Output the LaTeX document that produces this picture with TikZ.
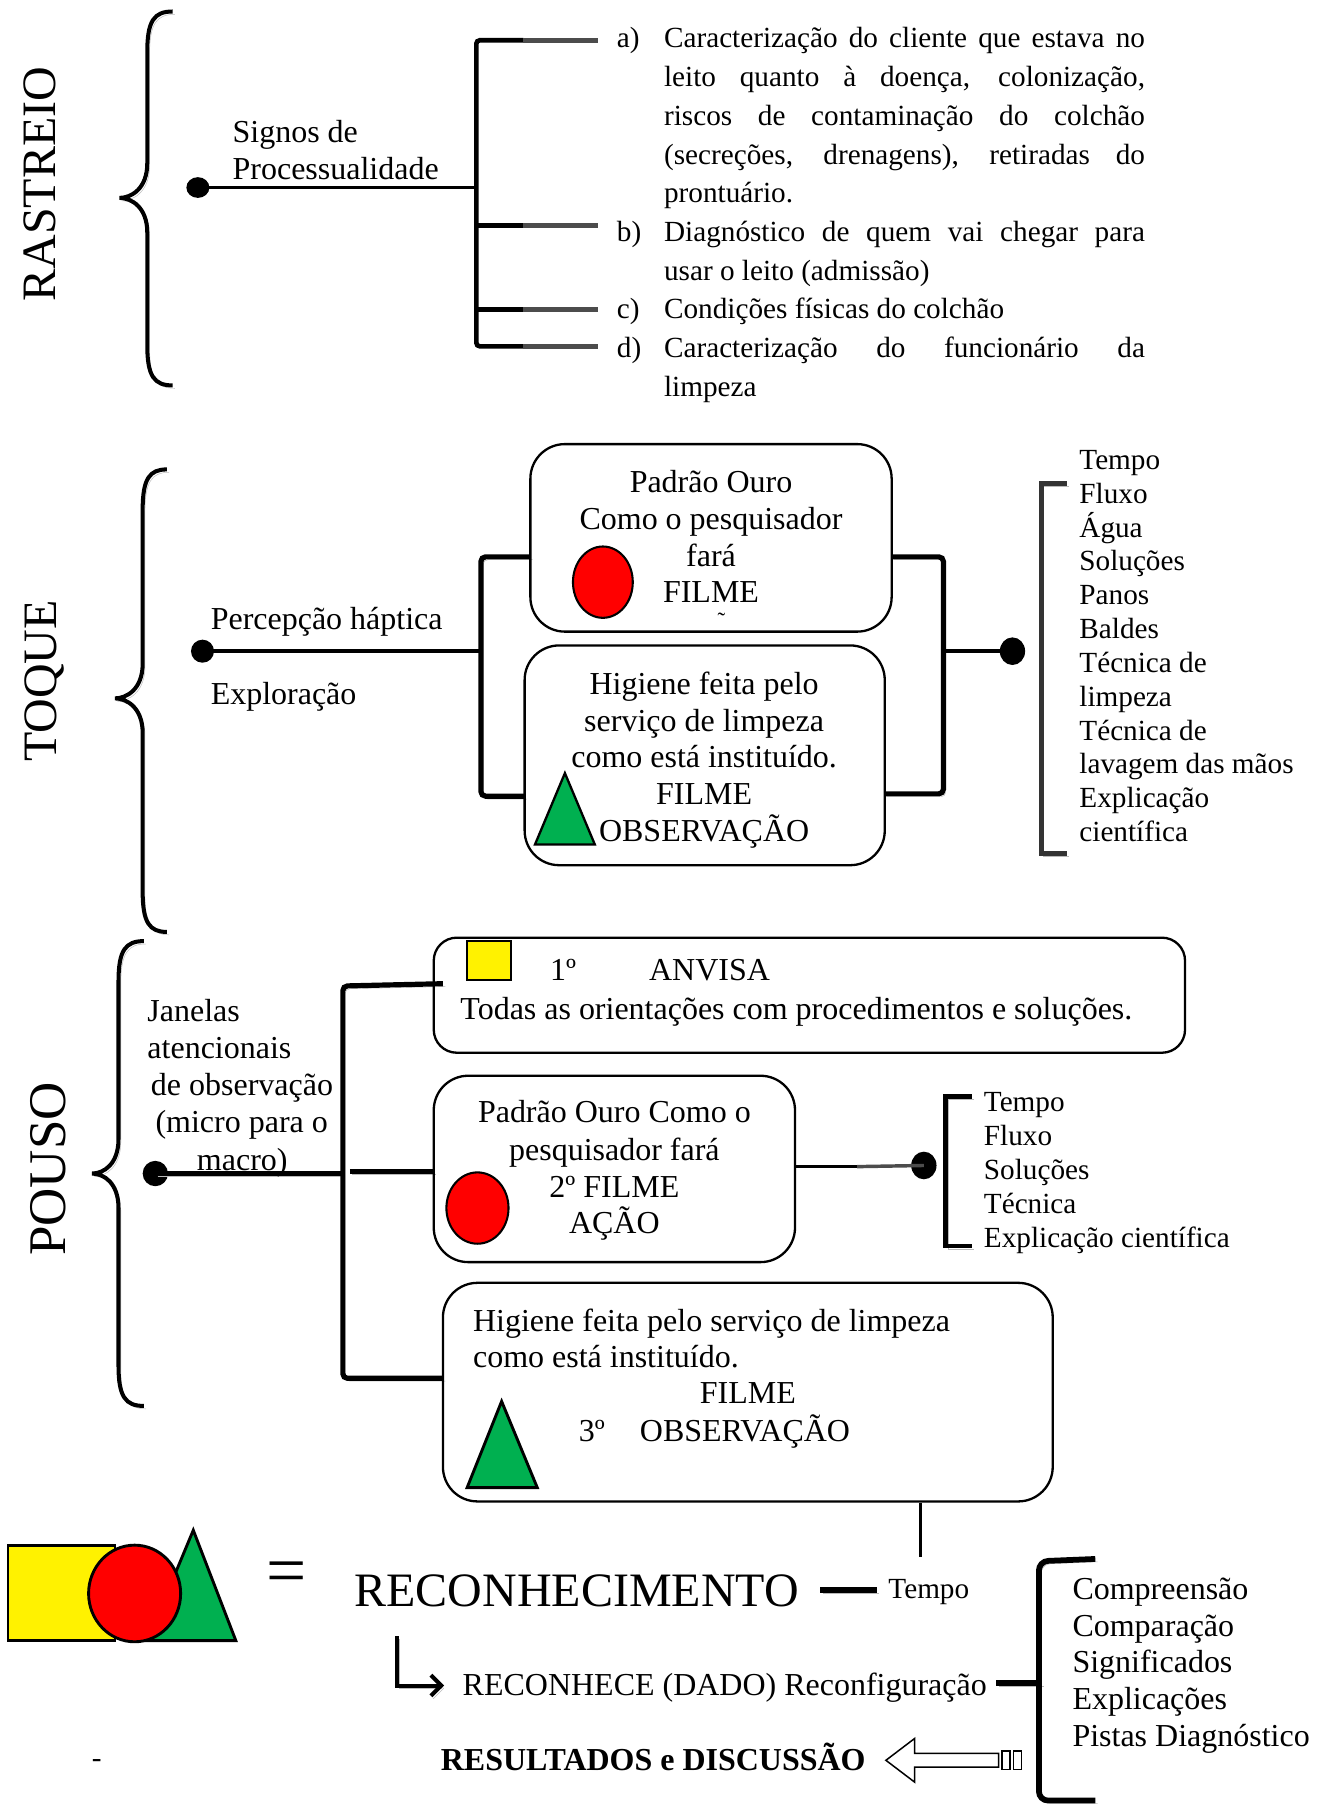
\documentclass[tikz,border=0pt]{standalone}
\usepackage{fontspec}
\setmainfont{Liberation Serif}
\usetikzlibrary{arrows.meta,shapes.geometric}
\newcommand{\fm}{\fontsize{27.8}{33}\selectfont}
\newcommand{\fl}{\fontsize{25.4}{30}\selectfont}
\newcommand{\fbig}{\fontsize{41.7}{50}\selectfont}
\newcommand{\jl}[1]{\makebox[418pt][s]{#1}}
\definecolor{offgreen}{HTML}{00B050}
\newcommand{\curlyb}[6]{%
 \draw[brc] ({#1},{#4}) .. controls ({#2+6},{#4}) and ({#2},{#4+8}) .. ({#2},{#4+35}) -- ({#2},{#5-30}) .. controls ({#2},{#5-8}) and ({#3+10},{#5}) .. ({#3},{#5}) .. controls ({#3+10},{#5}) and ({#2},{#5+8}) .. ({#2},{#5+30}) -- ({#2},{#6-35}) .. controls ({#2},{#6-8}) and ({#2+6},{#6}) .. ({#1},{#6});}
\begin{document}
\begin{tikzpicture}[x=1pt,y=-1pt,
  txt/.style={inner sep=0pt, anchor=base west, font=\fm},
  ltxt/.style={inner sep=0pt, anchor=base west, font=\fl},
  ctxt/.style={inner sep=0pt, anchor=base, font=\fm},
  rbox/.style={draw, line width=2pt, rounded corners=30pt, inner sep=0pt},
  dotn/.style={circle, fill=black, inner sep=0pt, minimum size=20pt},
  conn/.style={line width=3pt},
  shd/.style={preaction={draw=gray!55, transform canvas={shift={(2pt,-2.5pt)}}}},
  brc/.style={line width=3.5pt, shd},
  brk/.style={line width=4.5pt, rounded corners=4pt, shd},
  sbrk/.style={line width=4pt, black!80, shd},
  ttl/.style={inner sep=0pt, anchor=base, rotate=90, font=\fbig}]
\useasboundingbox (0,0) rectangle (1151,1568);

% ================= RASTREIO =================
\node[ttl] (rastreio) at (48,160) {RASTREIO};
\curlyb{150}{128}{104}{10}{172}{335}
\node[dotn, minimum width=20pt, minimum height=18pt, ellipse] (rd) at (172,163) {};
\coordinate (rb) at (414,163);
\draw[conn] (rd.center) -- (rb);
\node[txt] (signos1) at (202,124) {Signos de};
\node[txt] (signos2) at (202,156) {Processualidade};
\draw[line width=4pt, rounded corners=3pt] (455,35) -- (414,35) -- (414,301) -- (455,301);
\draw[line width=4pt] (414,196) -- (455,196);
\draw[line width=4pt] (414,269) -- (455,269);
\foreach \yy in {35,196,269,301} \draw[line width=4pt, black!70] (455,\yy) -- (520,\yy);
\node[ltxt] (la) at (536,41) {a)};
\node[ltxt] (ta1) at (577,41) {\jl{Caracterização do cliente que estava no}};
\node[ltxt] (ta2) at (577,75) {\jl{leito quanto à doença, colonização,}};
\node[ltxt] (ta3) at (577,109) {\jl{riscos de contaminação do colchão}};
\node[ltxt] (ta4) at (577,143) {\jl{(secreções, drenagens), retiradas do}};
\node[ltxt] (ta5) at (577,176) {prontuário.};
\node[ltxt] (lb) at (536,210) {b)};
\node[ltxt] (tb1) at (577,210) {\jl{Diagnóstico de quem vai chegar para}};
\node[ltxt] (tb2) at (577,244) {usar o leito (admissão)};
\node[ltxt] (lc) at (536,277) {c)};
\node[ltxt] (tc1) at (577,277) {Condições físicas do colchão};
\node[ltxt] (ld) at (536,311) {d)};
\node[ltxt] (td1) at (577,311) {\jl{Caracterização do funcionário da}};
\node[ltxt] (td2) at (577,345) {limpeza};

% ================= TOQUE =================
\node[ttl] (toque) at (49,592) {TOQUE};
\curlyb{145}{124}{100}{408}{607}{810}
\node[dotn] (td) at (176,566) {};
\coordinate (tb) at (418,566);
\draw[conn] (td.center) -- (tb);
\node[txt] (perc) at (183,547) {Percepção háptica};
\node[txt] (expl) at (183,612) {Exploração};
\draw[brk] (461,484) -- (418,484) -- (418,692) -- (456,692);
\node[rbox, minimum width=314pt, minimum height=163pt] (pbox1) at (618,467.5) {};
\node[ctxt] (p1a) at (618,428) {Padrão Ouro};
\node[ctxt] (p1b) at (618,460) {Como o pesquisador};
\node[ctxt] (p1c) at (618,492) {fará};
\node[ctxt] (p1d) at (618,524) {FILME};
\node[inner sep=0pt, anchor=north, font=\fontsize{20}{24}\selectfont] (p1e) at (627,533) {˜};
\node[ellipse, draw, fill=red, line width=1.8pt, minimum width=52pt, minimum height=62pt, inner sep=0pt] (c1) at (524,506) {};
\node[rbox, minimum width=313pt, minimum height=191pt] (pbox2) at (612.5,656.5) {};
\node[ctxt] (p2a) at (612,604) {Higiene feita pelo};
\node[ctxt] (p2b) at (612,636) {serviço de limpeza};
\node[ctxt] (p2c) at (612,667) {como está instituído.};
\node[ctxt] (p2d) at (612,699) {FILME};
\node[ctxt] (p2e) at (612,731) {OBSERVAÇÃO};
\draw[line width=2pt, fill=offgreen] (491,672) -- (517,734) -- (465,734) -- cycle;
\draw[brk] (775,484) -- (820,484) -- (820,690) -- (769,690);
\node[dotn, minimum width=22pt, minimum height=24pt, ellipse] (tr) at (880,566) {};
\draw[conn] (820,566) -- (tr.center);
\draw[sbrk] (927,420) -- (905,420) -- (905,742) -- (927,742);
\foreach \t [count=\i] in {Tempo,Fluxo,Água,Soluções,Panos,Baldes,Técnica de,limpeza,Técnica de,lavagem das mãos,Explicação,científica}
  \node[ltxt] (tl\i) at (938,{408+(\i-1)*29.4}) {\t};

% ================= POUSO =================
\node[ttl, font=\fontsize{46}{52}\selectfont] (pouso) at (57,1016) {POUSO};
\curlyb{125}{103}{80}{818}{1020}{1222}
\node[dotn, minimum size=22pt] (pd) at (135,1020) {};
\coordinate (pb) at (298,1020);
\draw[line width=5pt, shd] (pd.center) -- (pb);
\node[txt] (j1) at (128,888) {Janelas};
\node[txt] (j2) at (128,920) {atencionais};
\node[txt] (j3) at (131,952) {de observação};
\node[txt] (j4) at (135,984) {(micro para o};
\node[txt] (j5) at (171,1017) {macro)};
\draw[brk] (385,855) -- (298,857) -- (298,1198) -- (385,1198);
\draw[line width=4.5pt, shd] (304,1018) -- (377,1018);
\node[rbox, rounded corners=20pt, minimum width=653pt, minimum height=100pt] (abox) at (703.5,865) {};
\node[draw, line width=2pt, fill=yellow, minimum width=38pt, minimum height=34pt, inner sep=0pt] (sq1) at (425,835) {};
\node[txt] (a1) at (478,852) {1º};
\node[txt] (a2) at (564,852) {ANVISA};
\node[txt] (a3) at (400,886) {Todas as orientações com procedimentos e soluções.};
\node[rbox, minimum width=314pt, minimum height=162pt] (qbox2) at (534,1016) {};
\node[ctxt] (q2a) at (534,976) {Padrão Ouro Como o};
\node[ctxt] (q2b) at (534,1009) {pesquisador fará};
\node[ctxt] (q2c) at (534,1041) {2º FILME};
\node[ctxt] (q2d) at (534,1072) {AÇÃO};
\node[ellipse, draw, fill=red, line width=1.8pt, minimum width=54pt, minimum height=62pt, inner sep=0pt] (c2) at (415,1050) {};
\node[dotn, minimum width=22pt, minimum height=24pt, ellipse] (pr) at (803,1013) {};
\draw[conn] (qbox2.east |- 0,1014) -- (745,1014);
\draw[conn, black!70] (745,1014) -- (pr.center);
\draw[sbrk, black] (845,953) -- (822,953) -- (822,1083) -- (845,1083);
\foreach \t [count=\i] in {Tempo,Fluxo,Soluções,Técnica,Explicação científica}
  \node[ltxt] (pl\i) at (855,{966+(\i-1)*29.5}) {\t};
\node[rbox, minimum width=530pt, minimum height=190pt] (qbox3) at (650,1210) {};
\node[txt] (q3a) at (411,1157) {Higiene feita pelo serviço de limpeza};
\node[txt] (q3b) at (411,1189) {como está instituído.};
\node[ctxt] (q3c) at (650,1220) {FILME};
\node[txt] (q3d) at (503,1253) {3º};
\node[txt] (q3e) at (556,1253) {OBSERVAÇÃO};
\draw[line width=2.5pt, fill=offgreen] (436,1218) -- (467,1293) -- (406,1293) -- cycle;
\coordinate (vt) at (800,1353);
\draw[line width=3pt] (qbox3.south -| vt) -- (vt);

% ================= BOTTOM =================
\draw[line width=2.5pt, fill=yellow] (7,1343) rectangle (100,1426);
\draw[line width=2.5pt, fill=offgreen] (168,1330) -- (205,1426) -- (128,1426) -- cycle;
\node[ellipse, draw, fill=red, line width=2.5pt, minimum width=80pt, minimum height=84pt, inner sep=0pt] (c3) at (117,1385) {};
\node[inner sep=0pt, font=\fontsize{62}{70}\selectfont] (eq) at (249,1372) {=};
\node[inner sep=0pt, anchor=base west, font=\fbig] (recon) at (308,1396) {RECONHECIMENTO};
\node[inner sep=0pt, anchor=base west, font=\fl] (tempo) at (772,1389) {Tempo};
\draw[line width=5pt, shd] (713,1382) -- (762,1382);
\node[txt] (reconhece) at (402,1474) {RECONHECE (DADO) Reconfiguração};
\coordinate (arrend) at (386,1465);
\draw[line width=3.5pt, -{Straight Barb[length=9pt,width=18pt]}, shd] (345,1422) -- (345,1465) -- (arrend);
\draw[line width=5pt, shd] (reconhece.east |- 0,1463) ++(8,0) -- (905,1463);
\draw[line width=5pt, rounded corners=8pt, shd] (952,1355) -- (903,1357) -- (903,1565) -- (952,1565);
\foreach \t [count=\i] in {Compreensão,Comparação,Significados,Explicações,Pistas Diagnóstico}
  \node[txt] (bl\i) at (932,{1390+(\i-1)*32}) {\t};
\node[txt, font=\fm\bfseries] (res) at (383,1539) {RESULTADOS e DISCUSSÃO};
\draw[line width=1.3pt, fill=white] (770,1530) -- (795,1511) -- (795,1524) -- (868,1524) -- (868,1536) -- (795,1536) -- (795,1549) -- cycle;
\draw[line width=1.3pt] (871,1522) rectangle (878,1538);
\draw[line width=1.3pt] (881,1522) rectangle (888,1538);
\node[inner sep=0pt, font=\fl] (dash) at (84,1533) {-};
\end{tikzpicture}
\end{document}
